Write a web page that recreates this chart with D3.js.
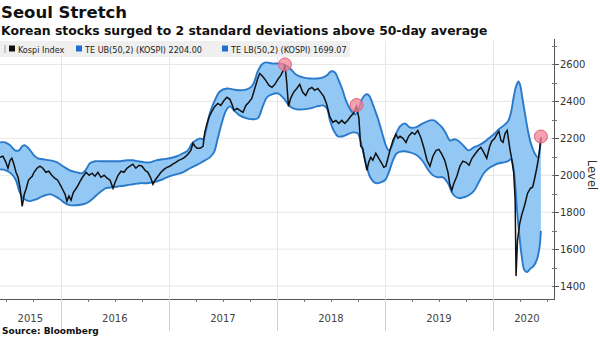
<!DOCTYPE html>
<html><head><meta charset="utf-8">
<script src="https://cdn.jsdelivr.net/npm/d3@7"></script>
<style>body{margin:0;background:#fff}svg{display:block}</style>
</head><body><svg id="c" width="600" height="337"></svg>
<script>
const kospi = [
["2015-06-10",2097],["2015-06-20",2103],["2015-06-30",2070],["2015-07-07",2038],["2015-07-14",2081],["2015-07-20",2092],["2015-07-27",2060],["2015-08-03",2016],["2015-08-10",1989],["2015-08-17",1930],["2015-08-24",1832],["2015-08-31",1897],["2015-09-07",1930],["2015-09-14",1973],["2015-09-20",1984],["2015-09-27",1995],["2015-10-03",2016],["2015-10-13",2038],["2015-10-23",2049],["2015-11-02",2038],["2015-11-12",2016],["2015-11-22",2022],["2015-12-02",2000],["2015-12-12",1984],["2015-12-22",1973],
["2016-01-02",1941],["2016-01-09",1919],["2016-01-16",1897],["2016-01-22",1860],["2016-01-29",1887],["2016-02-05",1865],["2016-02-12",1903],["2016-02-18",1919],["2016-02-25",1935],["2016-03-07",1968],["2016-03-17",1995],["2016-03-27",2016],["2016-04-06",2000],["2016-04-16",2011],["2016-04-26",1995],["2016-05-06",2016],["2016-05-16",1989],["2016-05-27",2000],["2016-06-06",1984],["2016-06-16",1973],["2016-06-26",1930],["2016-07-03",1962],["2016-07-13",2000],["2016-07-23",2022],["2016-08-02",2016],["2016-08-12",2038],["2016-08-22",2049],["2016-09-01",2060],["2016-09-11",2038],["2016-09-22",2054],["2016-10-02",2049],["2016-10-12",2027],["2016-10-22",2016],["2016-11-01",1984],["2016-11-08",1951],["2016-11-15",1973],["2016-11-25",1995],["2016-12-05",2016],["2016-12-15",2032],["2016-12-25",2043],
["2017-01-04",2049],["2017-01-14",2060],["2017-01-24",2070],["2017-02-03",2081],["2017-02-13",2087],["2017-02-23",2097],["2017-03-06",2114],["2017-03-16",2135],["2017-03-23",2173],["2017-03-30",2157],["2017-04-06",2146],["2017-04-16",2146],["2017-04-26",2157],["2017-05-02",2232],["2017-05-09",2276],["2017-05-16",2313],["2017-05-26",2346],["2017-06-05",2373],["2017-06-15",2389],["2017-06-25",2378],["2017-07-06",2405],["2017-07-16",2422],["2017-07-26",2411],["2017-08-02",2384],["2017-08-09",2351],["2017-08-19",2362],["2017-08-29",2351],["2017-09-08",2341],["2017-09-18",2378],["2017-09-28",2395],["2017-10-08",2416],["2017-10-18",2470],["2017-10-28",2524],["2017-11-04",2551],["2017-11-14",2535],["2017-11-24",2514],["2017-12-05",2486],["2017-12-15",2476],["2017-12-25",2492],
["2018-01-04",2519],["2018-01-14",2541],["2018-01-24",2573],["2018-01-28",2600],["2018-02-03",2503],["2018-02-09",2373],["2018-02-16",2416],["2018-02-26",2449],["2018-03-09",2470],["2018-03-19",2492],["2018-03-29",2449],["2018-04-08",2432],["2018-04-18",2465],["2018-04-29",2476],["2018-05-09",2460],["2018-05-19",2470],["2018-05-29",2449],["2018-06-08",2427],["2018-06-18",2384],["2018-06-28",2319],["2018-07-09",2286],["2018-07-19",2297],["2018-07-29",2281],["2018-08-08",2297],["2018-08-18",2281],["2018-08-28",2297],["2018-09-07",2319],["2018-09-17",2335],["2018-09-24",2362],["2018-09-27",2373],["2018-10-05",2308],["2018-10-11",2157],["2018-10-18",2146],["2018-10-25",2081],["2018-11-01",2027],["2018-11-07",2070],["2018-11-14",2097],["2018-11-21",2081],["2018-12-01",2119],["2018-12-11",2092],["2018-12-21",2065],["2018-12-28",2043],
["2019-01-04",2049],["2019-01-11",2092],["2019-01-18",2135],["2019-01-28",2189],["2019-02-07",2222],["2019-02-14",2200],["2019-02-21",2211],["2019-03-03",2200],["2019-03-13",2178],["2019-03-22",2211],["2019-04-02",2232],["2019-04-12",2222],["2019-04-22",2243],["2019-05-03",2200],["2019-05-13",2146],["2019-05-23",2081],["2019-06-02",2049],["2019-06-12",2103],["2019-06-23",2135],["2019-07-02",2140],["2019-07-12",2114],["2019-07-22",2081],["2019-08-02",2016],["2019-08-08",1951],["2019-08-15",1919],["2019-08-22",1957],["2019-09-01",1995],["2019-09-11",2049],["2019-09-21",2076],["2019-10-02",2070],["2019-10-12",2054],["2019-10-22",2092],["2019-11-01",2114],["2019-11-11",2135],["2019-11-21",2151],["2019-12-01",2124],["2019-12-11",2092],["2019-12-21",2157],["2019-12-28",2184],
["2020-01-07",2200],["2020-01-14",2222],["2020-01-21",2238],["2020-01-28",2189],["2020-02-04",2178],["2020-02-11",2227],["2020-02-18",2243],["2020-02-21",2211],["2020-02-28",2135],["2020-03-04",2092],["2020-03-11",2016],["2020-03-16",1865],["2020-03-19",1454],["2020-03-24",1649],["2020-03-31",1735],["2020-04-07",1784],["2020-04-17",1838],["2020-04-27",1903],["2020-05-07",1930],["2020-05-14",1935],["2020-05-21",1984],["2020-05-28",2038],["2020-06-04",2103],["2020-06-11",2204]
];

const upperBand = [
["2015-06-10",2178],["2015-06-27",2178],["2015-07-14",2162],["2015-07-31",2135],["2015-08-13",2135],["2015-08-24",2157],["2015-09-03",2162],["2015-09-20",2135],["2015-10-03",2108],["2015-10-16",2092],["2015-11-02",2087],["2015-11-26",2081],["2015-12-20",2070],["2016-01-09",2049],["2016-02-01",2027],["2016-02-25",2016],["2016-03-13",2011],["2016-03-27",2032],["2016-04-09",2065],["2016-04-26",2076],["2016-05-13",2076],["2016-06-02",2076],["2016-06-26",2076],["2016-07-20",2076],["2016-08-12",2081],["2016-09-01",2081],["2016-09-18",2076],["2016-10-12",2070],["2016-10-29",2070],["2016-11-18",2081],["2016-12-12",2087],["2017-01-04",2092],["2017-01-28",2103],["2017-02-17",2119],["2017-03-06",2135],["2017-03-20",2173],["2017-04-02",2189],["2017-04-16",2200],["2017-04-26",2195],["2017-05-06",2243],["2017-05-19",2335],["2017-06-05",2405],["2017-06-22",2454],["2017-07-16",2470],["2017-08-05",2465],["2017-08-28",2460],["2017-09-21",2465],["2017-10-08",2481],["2017-10-18",2514],["2017-10-28",2562],["2017-11-11",2600],["2017-11-24",2611],["2017-12-15",2605],["2018-01-04",2605],["2018-01-24",2600],["2018-02-14",2578],["2018-03-06",2546],["2018-03-30",2530],["2018-04-23",2524],["2018-05-17",2524],["2018-06-06",2530],["2018-06-19",2541],["2018-07-02",2562],["2018-07-16",2557],["2018-07-26",2524],["2018-08-09",2470],["2018-08-22",2405],["2018-09-08",2351],["2018-09-22",2330],["2018-10-05",2362],["2018-10-15",2411],["2018-10-29",2438],["2018-11-08",2432],["2018-11-21",2384],["2018-12-08",2308],["2018-12-22",2232],["2019-01-04",2162],["2019-01-14",2135],["2019-01-24",2157],["2019-02-07",2222],["2019-02-21",2265],["2019-03-09",2281],["2019-03-26",2259],["2019-04-15",2259],["2019-05-09",2281],["2019-06-02",2297],["2019-06-16",2297],["2019-06-29",2281],["2019-07-13",2259],["2019-07-26",2227],["2019-08-08",2189],["2019-08-25",2195],["2019-09-08",2184],["2019-09-25",2157],["2019-10-11",2135],["2019-10-28",2151],["2019-11-14",2162],["2019-12-01",2178],["2019-12-18",2200],["2020-01-04",2222],["2020-01-21",2249],["2020-02-07",2270],["2020-02-21",2292],["2020-03-02",2341],["2020-03-12",2432],["2020-03-19",2481],["2020-03-27",2508],["2020-04-02",2487],["2020-04-08",2432],["2020-04-18",2335],["2020-04-28",2243],["2020-05-08",2173],["2020-05-21",2119],["2020-06-01",2097],["2020-06-08",2146],["2020-06-11",2204]
];

const lowerBand = [
["2015-06-10",2032],["2015-06-30",2027],["2015-07-20",2006],["2015-08-03",1973],["2015-08-13",1919],["2015-08-24",1881],["2015-09-06",1865],["2015-09-20",1860],["2015-10-10",1870],["2015-11-02",1887],["2015-11-26",1897],["2015-12-13",1887],["2015-12-30",1870],["2016-01-16",1849],["2016-02-01",1838],["2016-02-25",1838],["2016-03-17",1843],["2016-04-03",1854],["2016-04-20",1876],["2016-05-13",1908],["2016-06-02",1930],["2016-06-26",1935],["2016-07-20",1941],["2016-08-12",1946],["2016-09-01",1951],["2016-09-25",1957],["2016-10-19",1957],["2016-11-08",1962],["2016-12-02",1973],["2016-12-19",1984],["2017-01-04",1995],["2017-01-28",2006],["2017-02-17",2016],["2017-03-13",2038],["2017-04-02",2054],["2017-04-16",2065],["2017-05-03",2081],["2017-05-19",2097],["2017-06-02",2124],["2017-06-15",2200],["2017-06-29",2286],["2017-07-13",2351],["2017-07-26",2373],["2017-08-12",2346],["2017-08-28",2324],["2017-09-21",2308],["2017-10-11",2303],["2017-10-28",2308],["2017-11-14",2373],["2017-11-28",2422],["2017-12-15",2438],["2018-01-04",2443],["2018-01-24",2416],["2018-02-14",2373],["2018-03-09",2357],["2018-04-02",2357],["2018-04-23",2362],["2018-05-17",2373],["2018-06-06",2378],["2018-06-19",2362],["2018-06-29",2297],["2018-07-13",2238],["2018-07-26",2211],["2018-08-12",2211],["2018-08-28",2222],["2018-09-15",2232],["2018-10-01",2227],["2018-10-08",2200],["2018-10-18",2135],["2018-11-01",2043],["2018-11-14",1984],["2018-12-01",1957],["2018-12-18",1962],["2019-01-01",1973],["2019-01-14",2016],["2019-01-28",2081],["2019-02-10",2119],["2019-03-03",2130],["2019-03-26",2124],["2019-04-19",2108],["2019-05-09",2076],["2019-05-26",2032],["2019-06-12",2000],["2019-06-29",1989],["2019-07-16",1989],["2019-08-02",1957],["2019-08-15",1908],["2019-08-25",1887],["2019-09-08",1876],["2019-09-25",1881],["2019-10-11",1892],["2019-10-28",1914],["2019-11-14",1962],["2019-12-01",2011],["2019-12-18",2038],["2020-01-04",2054],["2020-01-21",2065],["2020-02-07",2070],["2020-02-21",2076],["2020-03-02",2087],["2020-03-08",2060],["2020-03-15",1973],["2020-03-21",1838],["2020-03-29",1692],["2020-04-08",1552],["2020-04-16",1487],["2020-04-25",1476],["2020-05-05",1492],["2020-05-17",1508],["2020-05-29",1546],["2020-06-06",1605],["2020-06-11",1699]
];

const touches = [["2018-01-28",2600],["2018-09-27",2380],["2020-06-11",2210]];
const yTicks = [1400,1600,1800,2000,2200,2400,2600];
const yMinorTicks = [1400,1500,1600,1700,1800,1900,2000,2100,2200,2300,2400,2500,2600,2700];
const years = ["2015","2016","2017","2018","2019","2020"];
const legendLabels = ["Kospi Index","TE UB(50,2) (KOSPI) 2204.00","TE LB(50,2) (KOSPI) 1699.07"];
const title = "Seoul Stretch";
const subtitle = "Korean stocks surged to 2 standard deviations above 50-day average";
const source = "Source: Bloomberg";
const yAxisTitle = "Level";

const parse = d3.timeParse("%Y-%m-%d");
const svg = d3.select("#c");

const plotTop = 41, plotBottom = 299, axisX = 554;
const x = d3.scaleTime().domain([parse("2015-06-10"), parse("2020-07-05")]).range([0, 548]);
const y = d3.scaleLinear().domain([1330, 2727]).range([plotBottom, plotTop]);

// gridlines
const grid = svg.append("g");
grid.selectAll("line.h").data(yTicks).join("line")
  .attr("x1", 0).attr("x2", axisX).attr("y1", d => y(d)).attr("y2", d => y(d))
  .attr("stroke", "#e6e6e6").attr("stroke-width", 1);
const yearStarts = years.slice(1).map(v => parse(v + "-01-01"));
grid.selectAll("line.v").data(yearStarts).join("line")
  .attr("x1", d => Math.round(x(d)) + 0.5).attr("x2", d => Math.round(x(d)) + 0.5)
  .attr("y1", plotTop).attr("y2", plotBottom)
  .attr("stroke", "#e6e6e6").attr("stroke-width", 1);

// band
const up = upperBand.map(d => [x(parse(d[0])), y(d[1])]);
const lo = lowerBand.map(d => [x(parse(d[0])), y(d[1])]);
const ln = d3.line().curve(d3.curveCatmullRom.alpha(0.5));
const bandPath = ln(up) + "L" + ln(lo.slice().reverse()).slice(1) + "Z";
svg.append("path").attr("d", bandPath).attr("fill", "#93c8f5").attr("stroke", "none");
svg.append("path").attr("d", ln(up)).attr("fill", "none").attr("stroke", "#2a7acb").attr("stroke-width", 1.9);
svg.append("path").attr("d", ln(lo)).attr("fill", "none").attr("stroke", "#2a7acb").attr("stroke-width", 1.9);

// price
const pl = d3.line().x(d => x(parse(d[0]))).y(d => y(d[1]));
svg.append("path").attr("d", pl(kospi)).attr("fill", "none").attr("stroke", "#111").attr("stroke-width", 1.5).attr("stroke-linejoin", "miter");

// touch markers
svg.selectAll("circle.t").data(touches).join("circle")
  .attr("cx", d => x(parse(d[0]))).attr("cy", d => y(d[1])).attr("r", 6.5)
  .attr("fill", "rgba(240,130,150,0.75)").attr("stroke", "#e0607a").attr("stroke-width", 1);

// y axis
const ya = svg.append("g");
ya.append("line").attr("x1", axisX + 0.5).attr("x2", axisX + 0.5).attr("y1", plotTop - 2).attr("y2", plotBottom + 1).attr("stroke", "#555");
ya.selectAll("line.mi").data(yMinorTicks.filter(v => y(v) > plotTop)).join("line")
  .attr("x1", axisX - 2).attr("x2", axisX + 3).attr("y1", d => Math.round(y(d)) + 0.5).attr("y2", d => Math.round(y(d)) + 0.5).attr("stroke", "#777");
ya.selectAll("line.ma").data(yTicks).join("line")
  .attr("x1", axisX).attr("x2", axisX + 5).attr("y1", d => Math.round(y(d)) + 0.5).attr("y2", d => Math.round(y(d)) + 0.5).attr("stroke", "#555");
ya.selectAll("text").data(yTicks).join("text")
  .attr("x", axisX + 6).attr("y", d => y(d) + 3.5)
  .attr("font-family", "'DejaVu Sans', sans-serif").attr("font-size", 10).attr("fill", "#333")
  .text(d => d);
svg.append("text").attr("transform", `translate(588,175) rotate(90)`).attr("text-anchor", "middle")
  .attr("font-family", "'DejaVu Sans', sans-serif").attr("font-size", 11.5).attr("fill", "#333").text(yAxisTitle);

// x axis
const xa = svg.append("g");
xa.append("line").attr("x1", 0).attr("x2", axisX + 1).attr("y1", plotBottom + 0.5).attr("y2", plotBottom + 0.5).attr("stroke", "#555");
const quarters = d3.timeMonth.every(3).range(x.domain()[0], x.domain()[1]);
xa.selectAll("line.q").data(quarters).join("line")
  .attr("x1", d => Math.round(x(d)) + 0.5).attr("x2", d => Math.round(x(d)) + 0.5)
  .attr("y1", plotBottom).attr("y2", plotBottom + 3).attr("stroke", "#777");
xa.selectAll("line.y").data(yearStarts).join("line")
  .attr("x1", d => Math.round(x(d)) + 0.5).attr("x2", d => Math.round(x(d)) + 0.5)
  .attr("y1", plotBottom).attr("y2", 331).attr("stroke", "#d0d0d0");
const labelEnd = 561;
xa.selectAll("text").data(years).join("text")
  .attr("x", d => {
    const a = Math.max(0, x(parse(d + "-01-01")));
    const b = Math.min(labelEnd, x(parse((+d + 1) + "-01-01")));
    return (a + b) / 2;
  })
  .attr("y", 322).attr("text-anchor", "middle")
  .attr("font-family", "'DejaVu Sans', sans-serif").attr("font-size", 10).attr("fill", "#444")
  .text(d => d);

// legend
const lg = svg.append("g");
lg.append("rect").attr("x", 0).attr("y", 41).attr("width", 350).attr("height", 16).attr("fill", "#efefef");
lg.append("rect").attr("x", 4).attr("y", 45).attr("width", 2).attr("height", 8).attr("fill", "#c8c8c8");
const legX = [9, 76, 222];
const legC = ["#111", "#1f6fd0", "#1f6fd0"];
lg.selectAll("rect.k").data(legendLabels).join("rect")
  .attr("x", (d, i) => legX[i]).attr("y", 45.5).attr("width", 6).attr("height", 6).attr("fill", (d, i) => legC[i]);
lg.selectAll("text").data(legendLabels).join("text")
  .attr("x", (d, i) => legX[i] + 9).attr("y", 52.5)
  .attr("font-family", "'DejaVu Sans Condensed', 'DejaVu Sans', sans-serif").attr("font-size", 9).attr("fill", "#222")
  .text(d => d);

// titles
svg.append("text").attr("x", 1).attr("y", 18).attr("font-family", "'DejaVu Sans', sans-serif").attr("font-weight", "bold")
  .attr("font-size", 16.5).attr("fill", "#111").text(title);
svg.append("text").attr("x", 1).attr("y", 35).attr("font-family", "'DejaVu Sans', sans-serif").attr("font-weight", "bold")
  .attr("font-size", 12.4).attr("fill", "#111").text(subtitle);
svg.append("text").attr("x", 2).attr("y", 334).attr("font-family", "'DejaVu Sans', sans-serif").attr("font-weight", "bold")
  .attr("font-size", 9).attr("fill", "#111").text(source);
</script>
</body></html>
